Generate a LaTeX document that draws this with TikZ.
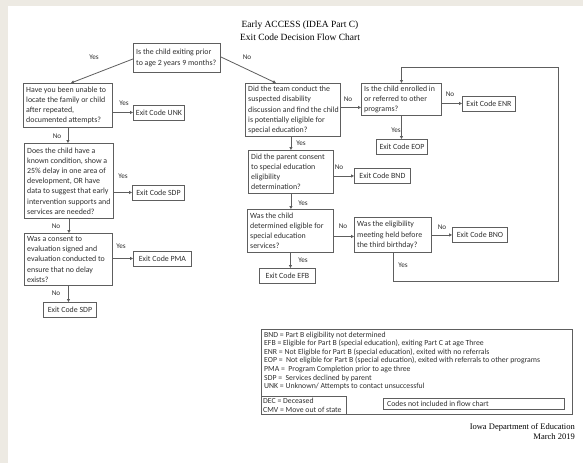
\documentclass[tikz,border=0pt]{standalone}
\usepackage{fontspec}
\setmainfont{Liberation Serif}
\newfontfamily\calfont{Carlito}
\usetikzlibrary{arrows.meta}
\definecolor{bgbeige}{HTML}{EDEAE3}
\definecolor{ln}{HTML}{5E5E5E}
\definecolor{tx}{HTML}{303030}
\tikzset{
  qrect/.style={draw=ln, line width=0.9pt, fill=white, anchor=north west, inner sep=0pt},
  qtext/.style={anchor=west, inner sep=0pt, align=left, font=\calfont\fontsize{7.9}{10.2}\selectfont, text=tx},
  ebox/.style={draw=ln, line width=0.9pt, fill=white, anchor=north west, inner sep=0pt, align=center, minimum height=15pt, font=\calfont\fontsize{7.9}{8}\selectfont, text=tx},
  arr/.style={draw=ln, line width=0.8pt, -{Triangle[length=3pt,width=3pt]}},
  lbl/.style={font=\calfont\fontsize{7.2}{8}\selectfont, text=tx, inner sep=0pt},
  legfont/.style={text=tx, font=\calfont\fontsize{7.75}{8.6}\selectfont},
}
% question box: name, x, y, width, height, text
\newcommand\qbx[6]{%
  \node[qrect, minimum width=#4pt, minimum height=#5pt] (#1) at (#2,#3) {};
  \node[qtext] (#1txt) at ([xshift=3pt]#1.west) {#6};}
\begin{document}
\begin{tikzpicture}[x=1pt,y=-1pt]
\useasboundingbox (0,0) rectangle (583,463);
\fill[bgbeige] (0,0) rectangle (583,463);
\fill[white] (8,6) rectangle (583,463);

% title
\node[font=\fontsize{9.5}{12}\selectfont, text=black] (t1) at (300,25) {Early ACCESS (IDEA Part C)};
\node[font=\fontsize{9.5}{12}\selectfont, text=black] (t2) at (300,37) {Exit Code Decision Flow Chart};

% left column
\qbx{q1}{133}{43}{87}{29}{Is the child exiting prior\\to age 2 years 9 months?}
\qbx{h}{23}{83}{89}{44}{Have you been unable to\\locate the family or child\\after repeated,\\documented attempts?}
\node[ebox, minimum width=51pt] (unk) at (133,104.5) {Exit Code UNK};
\qbx{d}{24}{143}{89}{75}{Does the child have a\\known condition, show a\\25\% delay in one area of\\development, OR have\\data to suggest that early\\intervention supports and\\services are needed?}
\node[ebox, minimum width=52pt] (sdpa) at (132,184.5) {Exit Code SDP};
\qbx{c}{24}{233}{88}{52}{Was a consent to\\evaluation signed and\\evaluation conducted to\\ensure that no delay\\exists?}
\node[ebox, minimum width=58pt] (pma) at (133,250.5) {Exit Code PMA};
\node[ebox, minimum width=53pt] (sdpb) at (43,302) {Exit Code SDP};

% right column
\qbx{t}{245}{83}{95}{53}{Did the team conduct the\\suspected disability\\discussion and find the child\\is potentially eligible for\\special education?}
\qbx{e}{361}{83}{80}{32}{Is the child enrolled in\\or referred to other\\programs?}
\node[ebox, minimum width=53pt] (enr) at (462,95.5) {Exit Code ENR};
\node[ebox, minimum width=51pt] (eop) at (376,139) {Exit Code EOP};
\qbx{p}{248}{150}{85}{43}{Did the parent consent\\to special education\\eligibility\\determination?}
\node[ebox, minimum width=56pt] (bnd) at (354,168) {Exit Code BND};
\qbx{q}{247}{209}{86}{43}{Was the child\\determined eligible for\\special education\\services?}
\qbx{w}{354}{217}{77}{35}{Was the eligibility\\meeting held before\\the third birthday?}
\node[ebox, minimum width=55pt] (bno) at (452,227) {Exit Code BNO};
\node[ebox, minimum width=56pt] (efb) at (259,268) {Exit Code EFB};

% connectors
\draw[arr] ([yshift=-1pt]q1.west) -- ([xshift=3pt]h.north);
\draw[arr] ([yshift=1pt]q1.east) -- ([xshift=-17pt]t.north);
\draw[arr] (h.east |- unk.west) -- (unk.west);
\draw[arr] (h.south) -- (h.south |- d.north);
\draw[arr] (d.east |- sdpa.west) -- (sdpa.west);
\draw[arr] (d.south) -- (d.south |- c.north);
\draw[arr] (c.east |- pma.west) -- (pma.west);
\draw[arr] (c.south) -- (c.south |- sdpb.north);

\coordinate (te) at ([yshift=-8pt]e.west);
\draw[arr] (t.east |- te) -- (te);
\draw[arr] (e.east |- enr.west) -- (enr.west);
\draw[arr] (e.south) -- (e.south |- eop.north);
\draw[arr] (p.north |- t.south) -- (p.north);
\draw[arr] (p.east |- bnd.west) -- (bnd.west);
\draw[arr] (p.south) -- (p.south |- q.north);
\coordinate (qw) at ([yshift=-1.5pt]w.west);
\draw[arr] (q.east |- qw) -- (qw);
\draw[arr] (w.east |- bno.west) -- (bno.west);
\draw[arr] (q.south) -- (q.south |- efb.north);
\coordinate (la) at (393,281);
\coordinate (lb) at (558,281);
\coordinate (lc) at (558,67);
\draw[arr] (w.south -| la) -- (la) -- (lb) -- (lc) -- (lc -| e.north) -- (e.north);

% labels
\node[lbl] (ya) at (94,57) {Yes};
\node[lbl] (na) at (247,57) {No};
\node[lbl] (yb) at (124,103) {Yes};
\node[lbl] (nb) at (57,136) {No};
\node[lbl] (yc) at (123,176) {Yes};
\node[lbl] (nc) at (56,226) {No};
\node[lbl] (yd) at (121,246) {Yes};
\node[lbl] (nd) at (56,293) {No};
\node[lbl] (ne) at (348,99) {No};
\node[lbl] (nf) at (450,94) {No};
\node[lbl] (ye) at (396,130) {Yes};
\node[lbl] (yf) at (301,143) {Yes};
\node[lbl] (ng) at (339,167) {No};
\node[lbl] (yg) at (303,203) {Yes};
\node[lbl] (nh) at (343,226) {No};
\node[lbl] (ni) at (442,227) {No};
\node[lbl] (yh) at (303,260) {Yes};
\node[lbl] (yi) at (403,265) {Yes};

% legend
\node[draw=ln, line width=0.9pt, anchor=north west, minimum width=311pt, minimum height=85pt, inner sep=0pt] (legend) at (261,329) {};
\node[legfont, anchor=north west, align=left, inner sep=0pt] (legtext) at (264,331.5) {BND = Part B eligibility not determined\\
EFB = Eligible for Part B (special education), exiting Part C at age Three\\
ENR = Not Eligible for Part B (special education), exited with no referrals\\
EOP =\ \ Not eligible for Part B (special education), exited with referrals to other programs\\
PMA =\ \ Program Completion prior to age three\\
SDP =\ \ Services declined by parent\\
UNK = Unknown/ Attempts to contact unsuccessful};
\node[draw=ln, line width=0.9pt, anchor=north west, minimum width=85pt, minimum height=18pt, inner sep=0pt] (dec) at (261,396) {};
\node[legfont, anchor=west, align=left, inner sep=0pt] (dectxt) at ([xshift=2pt]dec.west) {DEC = Deceased\\CMV = Move out of state};
\node[draw=ln, line width=0.9pt, anchor=north west, minimum width=181pt, minimum height=11pt, inner sep=0pt] (notinc) at (383,398) {};
\node[legfont, anchor=west, inner sep=0pt] (notinctxt) at ([xshift=4pt]notinc.west) {Codes not included in flow chart};

% footer
\node[anchor=east, inner sep=0pt, font=\fontsize{8.5}{10}\selectfont, text=black] (f1) at (575,427) {Iowa Department of Education};
\node[anchor=east, inner sep=0pt, font=\fontsize{8.5}{10}\selectfont, text=black] (f2) at (575,437) {March 2019};
\end{tikzpicture}
\end{document}
